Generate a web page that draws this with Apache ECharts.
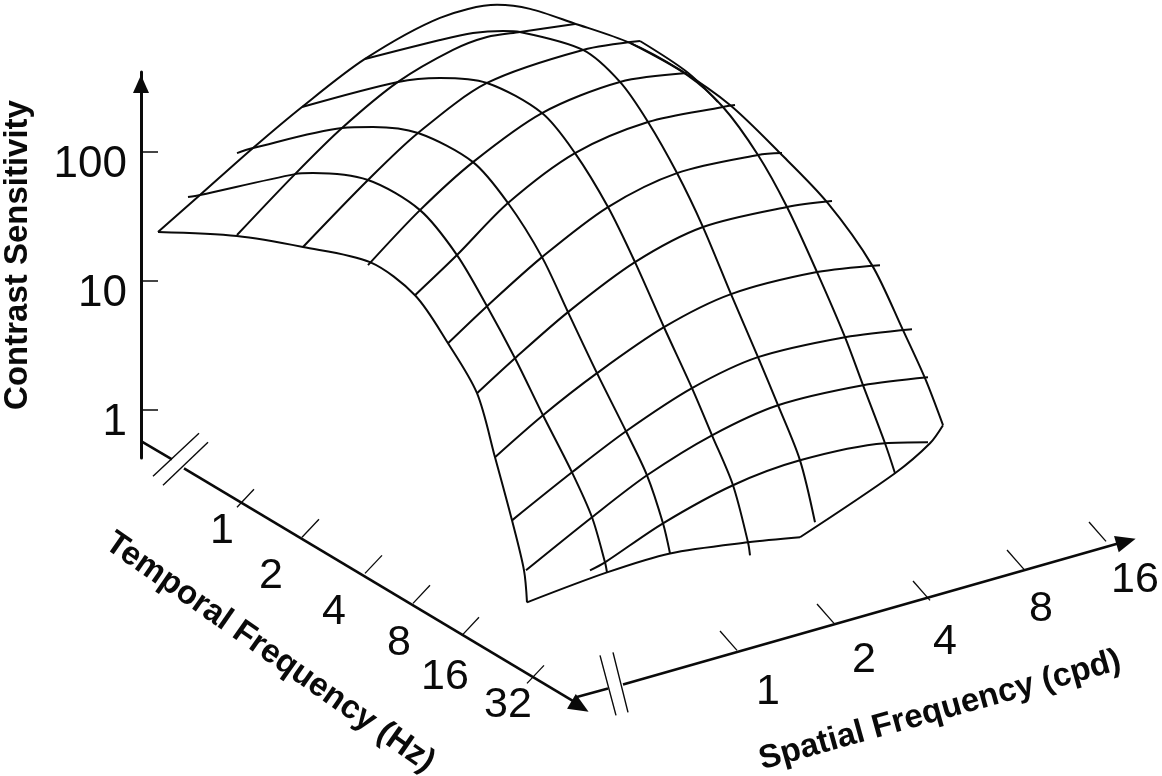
<!DOCTYPE html>
<html>
<head>
<meta charset="utf-8">
<title>Contrast sensitivity surface</title>
<script src="https://cdn.jsdelivr.net/npm/echarts@6/dist/echarts.min.js"></script>
<style>
  html, body { margin: 0; padding: 0; background: #fff; }
  #chart { width: 1162px; height: 776px; }
</style>
</head>
<body>
<div id="chart"></div>
<script>
// Surface. Each curve is a list of projected floor positions
// and a matching list of apparent log10 contrast sensitivity against the vertical axis.

// curves that run along temporal frequency (upper left to lower right)
const temporalCurveFloor = [
  [17, 96, 162, 229, 274, 307, 336, 354, 371, 383, 386],
  [47, 59, 154, 172, 227, 279, 316, 346, 374, 402, 431, 451, 464, 466],
  [96, 112, 201, 232, 277, 332, 367, 401, 427, 456, 485, 506, 522, 529],
  [161, 257, 299, 346, 401, 434, 467, 494, 523, 551, 571, 592, 607, 609],
  [224, 299, 332, 362, 379, 442, 479, 507, 536, 562, 590, 617, 637, 659, 674],
  [489, 546, 582, 617, 646, 676, 704, 722, 744, 754],
  [17, 59, 112, 161, 224, 299, 356, 389, 432, 489, 539, 589, 639, 686, 731, 762, 784, 802],
  [499, 546, 577],
]
const temporalCurveLog = [
  [1.380, 1.349, 1.264, 1.147, 0.891, 0.519, 0.132, -0.364, -0.853, -1.240, -1.488],
  [1.651, 1.667, 1.829, 1.837, 1.783, 1.550, 1.202, 0.806, 0.403, -0.039, -0.481, -0.829, -1.178, -1.256],
  [1.992, 2.031, 2.186, 2.194, 2.147, 1.922, 1.605, 1.186, 0.760, 0.287, -0.163, -0.504, -0.876, -1.109],
  [2.349, 2.543, 2.574, 2.535, 2.302, 1.992, 1.574, 1.147, 0.643, 0.171, -0.194, -0.581, -1.023, -1.124],
  [2.721, 2.868, 2.922, 2.938, 2.930, 2.791, 2.543, 2.233, 1.837, 1.419, 0.899, 0.411, 0.039, -0.388, -0.868],
  [2.845, 2.597, 2.349, 1.977, 1.574, 1.070, 0.566, 0.194, -0.256, -0.488],
  [1.380, 1.667, 2.031, 2.349, 2.721, 3.039, 3.140, 3.109, 3.000, 2.845, 2.636, 2.364, 1.992, 1.612, 1.124, 0.620, 0.248, -0.116],
  [2.860, 2.620, 2.388],
]

// curves that run along spatial frequency (lower left to upper right)
const spatialCurveFloor = [
  [96, 154, 201, 257, 312, 346, 379, 434],
  [162, 227, 277, 346, 442, 499],
  [227, 279, 332, 401, 479, 546],
  [274, 316, 367, 434, 507, 582, 594],
  [307, 346, 401, 467, 536, 617, 641],
  [336, 374, 427, 494, 562, 646, 691],
  [354, 402, 456, 523, 590, 676, 739],
  [371, 431, 485, 551, 617, 704, 771],
  [385, 451, 506, 571, 637, 722, 787],
  [449, 464, 522, 592, 659, 744, 787],
  [386, 466, 529, 607, 659],
  [659, 754, 789, 802],
]
const spatialCurveLog = [
  [1.357, 1.829, 2.186, 2.543, 2.791, 2.891, 2.930, 2.992],
  [1.264, 1.783, 2.147, 2.535, 2.791, 2.860],
  [1.124, 1.550, 1.922, 2.302, 2.543, 2.612],
  [0.891, 1.202, 1.605, 1.992, 2.233, 2.349, 2.364],
  [0.519, 0.806, 1.186, 1.574, 1.837, 1.977, 1.992],
  [0.132, 0.403, 0.760, 1.147, 1.419, 1.574, 1.620],
  [-0.364, -0.039, 0.287, 0.643, 0.899, 1.070, 1.124],
  [-0.853, -0.481, -0.163, 0.171, 0.411, 0.566, 0.628],
  [-1.240, -0.829, -0.504, -0.194, 0.039, 0.194, 0.256],
  [-1.240, -1.178, -0.876, -0.581, -0.388, -0.256, -0.248],
  [-1.488, -1.256, -1.109, -1.023, -0.984],
  [-0.984, -0.488, -0.256, -0.116],
]

const sensitivityTicks = [0, 1, 2]

const temporalLabels = ['1', '2', '4', '8', '16', '32']
const temporalTickFloor = [96, 161, 224, 272, 321, 386]
const temporalTickLog = [-0.752, -0.984, -1.264, -1.496, -1.744, -2.116]
const temporalLabelFloor = [81, 130, 193, 258, 304, 367]
const temporalLabelLog = [-0.938, -1.287, -1.566, -1.806, -2.070, -2.287]

const spatialLabels = ['1', '2', '4', '8', '16']
const spatialTickFloor = [596, 693, 789, 883, 965]
const spatialTickLog = [-1.860, -1.651, -1.473, -1.233, -1.016]
const spatialLabelFloor = [627, 723, 804, 900, 994]
const spatialLabelLog = [-2.186, -1.938, -1.798, -1.543, -1.318]

// floor axes, each with its break marks
const temporalAxisFloor = [[0, 31], [43, 436], [12, 58], [22, 67]]
const temporalAxisLog = [[-0.240, -0.380], [-0.450, -2.271], [-0.512, -0.178], [-0.581, -0.248]]
const spatialAxisFloor = [[434, 467], [482, 984], [459, 475], [472, 487]]
const spatialAxisLog = [[-2.225, -2.155], [-2.124, -1.016], [-1.899, -2.364], [-1.876, -2.341]]

const ink = '#0a0a0a'
const labelFont = 'Liberation Sans'

const zip = (xs, ys) => xs.map((x, i) => [x, ys[i]])

const lineSeries = (xs, ys, width, smooth) => ({
  type: 'line',
  data: zip(xs, ys),
  symbol: 'none',
  smooth: smooth,
  clip: false,
  silent: true,
  lineStyle: { color: ink, width: width },
})

const textSeries = (pos, text, fontSize, fontWeight, rotate) => ({
  type: 'scatter',
  data: [{ value: pos, name: text }],
  symbolSize: 1,
  clip: false,
  silent: true,
  itemStyle: { color: 'transparent', opacity: 1 },
  label: {
    show: true,
    position: 'inside',
    formatter: text,
    color: ink,
    fontFamily: labelFont,
    fontSize: fontSize,
    fontWeight: fontWeight,
    rotate: rotate,
  },
})

const arrowSeries = (pos, rotate) => ({
  type: 'scatter',
  data: [pos],
  symbol: 'triangle',
  symbolSize: [17, 20],
  symbolRotate: rotate,
  clip: false,
  silent: true,
  itemStyle: { color: ink, opacity: 1 },
})

const series = []

temporalCurveFloor.forEach((xs, i) => series.push(lineSeries(xs, temporalCurveLog[i], 2, 0.3)))
spatialCurveFloor.forEach((xs, i) => series.push(lineSeries(xs, spatialCurveLog[i], 2, 0.3)))

temporalAxisFloor.forEach((xs, i) => series.push(lineSeries(xs, temporalAxisLog[i], i < 2 ? 2.6 : 1.4, false)))
spatialAxisFloor.forEach((xs, i) => series.push(lineSeries(xs, spatialAxisLog[i], i < 2 ? 2.6 : 1.4, false)))

temporalTickFloor.forEach((x, i) => {
  series.push(lineSeries([x, x + 17], [temporalTickLog[i], temporalTickLog[i] + 0.14], 1.3, false))
  series.push(textSeries([temporalLabelFloor[i], temporalLabelLog[i]], temporalLabels[i], 43, 'normal', 0))
})
spatialTickFloor.forEach((x, i) => {
  series.push(lineSeries([x, x - 17], [spatialTickLog[i], spatialTickLog[i] + 0.15], 1.3, false))
  series.push(textSeries([spatialLabelFloor[i], spatialLabelLog[i]], spatialLabels[i], 43, 'normal', 0))
})

series.push(arrowSeries([439, -2.295], -121))
series.push(arrowSeries([985, -1.016], -74))
series.push(textSeries([129, -1.876], 'Temporal Frequency (Hz)', 33, 'bold', -35))
series.push(textSeries([799, -2.326], 'Spatial Frequency (cpd)', 33, 'bold', 15.6))

const chart = echarts.init(document.getElementById('chart'), null, { renderer: 'canvas' })

chart.setOption({
  animation: false,
  backgroundColor: '#fff',
  grid: { left: 141, top: 72, width: 1021, height: 386, outerBoundsMode: 'none' },
  xAxis: { type: 'value', min: 0, max: 1021, show: false },
  yAxis: {
    type: 'value',
    min: -0.37,
    max: 2.62,
    name: 'Contrast Sensitivity',
    nameLocation: 'middle',
    nameGap: 107,
    nameRotate: 90,
    nameTextStyle: { color: ink, fontFamily: labelFont, fontSize: 33, fontWeight: 'bold', padding: [0, 0, 0, 20] },
    axisLine: {
      show: true,
      onZero: false,
      symbol: ['none', 'triangle'],
      symbolSize: [16, 18],
      symbolOffset: [0, -12],
      lineStyle: { color: ink, width: 3 },
    },
    axisTick: {
      show: true,
      inside: true,
      length: 17,
      customValues: sensitivityTicks,
      lineStyle: { color: ink, width: 1.5 },
    },
    axisLabel: {
      show: true,
      margin: 14,
      customValues: sensitivityTicks,
      formatter: (v) => String(Math.pow(10, v)),
      color: ink,
      fontFamily: labelFont,
      fontSize: 44,
      verticalAlign: 'top',
      lineHeight: 26,
    },
    splitLine: { show: false },
  },
  series: series,
})
</script>
</body>
</html>
